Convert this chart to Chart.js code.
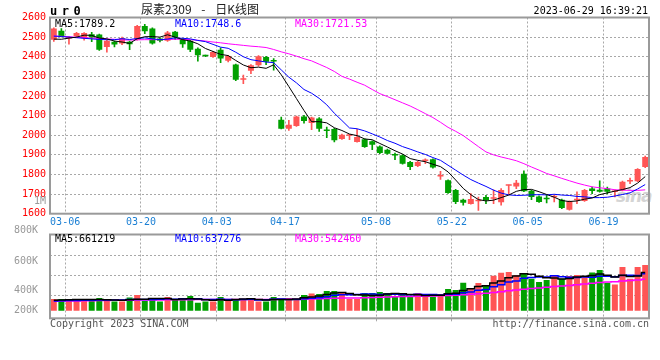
<!DOCTYPE html>
<html><head><meta charset="utf-8">
<script src="https://cdn.jsdelivr.net/npm/chart.js@4.4.0/dist/chart.umd.min.js"></script>
<style>
html,body{margin:0;padding:0;background:#fff;}
#wrap{position:relative;width:660px;height:360px;overflow:hidden;background:#fff;}
canvas{position:absolute;left:0;}
.t{position:absolute;font-family:'DejaVu Sans Mono',monospace;font-size:10px;line-height:10px;white-space:pre;}
</style></head><body><div id="wrap">
<div class="t" style="left:616px;top:186px;font-family:'DejaVu Sans';font-weight:bold;font-style:italic;font-size:17px;line-height:20px;letter-spacing:-1px;color:#d4d4d4;">sina</div>
<canvas id="pc" width="660" height="232" style="top:0"></canvas>
<canvas id="vc" width="660" height="160" style="top:200px"></canvas>
<div class="t" style="left:50px;top:4.8px;font-weight:bold;font-size:12px;line-height:12px;letter-spacing:4.5px;color:#000;">ur0</div>
<div class="t" style="left:141px;top:2px;font-family:'Noto Sans CJK SC';font-size:12px;line-height:14px;color:#222;word-spacing:7px;">尿素2309 - 日K线图</div>
<div class="t" style="right:12px;top:6.1px;color:#000;">2023-06-29 16:39:21</div>
<div class="t" style="left:55px;top:18.8px;color:#000;">MA5:1789.2</div>
<div class="t" style="left:175px;top:18.8px;color:#0000ff;">MA10:1748.6</div>
<div class="t" style="left:295px;top:18.8px;color:#ff00ff;">MA30:1721.53</div>
<div class="t" style="left:34px;top:195.5px;color:#999;">1M</div>
<div class="t" style="left:55px;top:233.8px;color:#000;">MA5:661219</div>
<div class="t" style="left:175px;top:233.8px;color:#0000ff;">MA10:637276</div>
<div class="t" style="left:295px;top:233.8px;color:#ff00ff;">MA30:542460</div>
<div class="t" style="left:50px;top:318.8px;color:#555;">Copyright 2023 SINA.COM</div>
<div class="t" style="right:11px;top:318.8px;color:#555;">http://finance.sina.com.cn</div>
</div>
<script>
const dates = ['03-02','03-03','03-06','03-07','03-08','03-09','03-10','03-13','03-14','03-15','03-16','03-17','03-20','03-21','03-22','03-23','03-24','03-27','03-28','03-29','03-30','03-31',
'04-03','04-04','04-06','04-07','04-10','04-11','04-12','04-13','04-14','04-17','04-18','04-19','04-20','04-21','04-24','04-25','04-26','04-27','04-28',
'05-04','05-05','05-08','05-09','05-10','05-11','05-12','05-15','05-16','05-17','05-18','05-19','05-22','05-23','05-24','05-25','05-26','05-29','05-30','05-31',
'06-01','06-02','06-05','06-06','06-07','06-08','06-09','06-12','06-13','06-14','06-15','06-16','06-19','06-20','06-21','06-26','06-27','06-28'];
const tickDates = ['03-06','03-20','04-03','04-17','05-08','05-22','06-05','06-19'];

const opens = [2487,2532,2493,2504,2494,2515,2513,2450,2476,2467,2476,2487,2557,2544,2493,2481,2527,2489,2481,2441,2405,2399,2436,2379,2360,2283,2328,2357,2399,2378,
2079,2033,2047,2096,2062,2085,2023,2032,1981,1997,1966,1979,1969,1943,1926,1899,1898,1864,1843,1868,1877,1789,1770,1721,1671,1650,1664,1685,1676,1658,
1742,1739,1804,1717,1688,1676,1684,1671,1620,1669,1665,1729,1722,1728,1710,1719,1764,1765,1838];
const highs = [2547,2544,2503,2524,2523,2525,2516,2484,2480,2500,2480,2560,2565,2547,2496,2530,2530,2493,2484,2445,2408,2428,2445,2407,2362,2306,2360,2406,2402,2391,
2093,2076,2098,2102,2093,2090,2042,2035,2006,2005,2030,1982,1972,1946,1929,1909,1901,1867,1867,1880,1880,1816,1772,1724,1674,1702,1685,1694,1722,1728,
1746,1770,1818,1720,1691,1694,1694,1674,1666,1711,1724,1736,1767,1736,1722,1766,1781,1830,1894];
const lows = [2478,2501,2464,2501,2484,2477,2432,2423,2450,2462,2436,2484,2518,2464,2476,2478,2487,2447,2426,2377,2400,2396,2370,2374,2278,2263,2314,2352,2360,2331,
2032,2025,2045,2062,2028,2020,1988,1966,1978,1977,1964,1938,1926,1906,1903,1875,1852,1824,1840,1855,1832,1775,1703,1651,1643,1648,1617,1651,1651,1643,
1699,1728,1712,1671,1657,1655,1660,1626,1618,1651,1662,1702,1710,1702,1685,1716,1753,1763,1835];
const closes = [2544,2504,2501,2521,2521,2498,2436,2481,2462,2496,2464,2557,2530,2467,2481,2523,2498,2464,2436,2408,2403,2424,2391,2404,2283,2287,2357,2402,2374,2376,
2033,2054,2096,2073,2090,2033,2021,1974,2003,1999,1991,1940,1952,1909,1906,1897,1855,1838,1864,1870,1835,1791,1705,1660,1656,1675,1666,1668,1678,1721,
1744,1758,1714,1685,1660,1674,1686,1629,1663,1671,1721,1716,1712,1712,1712,1763,1766,1828,1889];

const ma5 = [2490,2489,2495,2500,2510,2509,2495,2491,2480,2475,2468,2492,2502,2503,2500,2512,2500,2487,2480,2466,2442,2427,2412,2406,2381,2358,2344,2347,2341,2359,
2308,2248,2187,2126,2069,2069,2063,2038,2024,2006,1998,1981,1977,1958,1940,1921,1904,1881,1872,1865,1852,1840,1813,1772,1729,1697,1672,1665,1669,1682,
1695,1714,1723,1724,1712,1698,1684,1667,1662,1665,1674,1680,1697,1706,1715,1723,1733,1756,1789.2];
const ma10 = [2505,2503,2500,2497,2494,2491,2488,2487,2487,2492,2488,2493,2496,2491,2487,2490,2496,2494,2491,2483,2477,2463,2449,2443,2423,2400,2385,2379,2373,2370,
2333,2296,2267,2233,2214,2188,2155,2112,2075,2037,2033,2022,2007,1991,1973,1959,1942,1929,1915,1902,1886,1872,1847,1822,1797,1774,1756,1739,1720,1705,
1696,1693,1694,1696,1697,1696,1699,1695,1693,1688,1686,1682,1682,1684,1690,1698,1706,1726,1748.6];
const ma30 = [2506,2504,2502,2499,2497,2495,2493,2491,2489,2486,2485,2486,2487,2487,2487,2488,2489,2489,2487,2484,2480,2475,2471,2466,2462,2458,2454,2451,2447,2437,
2425,2415,2403,2390,2379,2362,2345,2325,2300,2286,2270,2255,2233,2212,2197,2181,2165,2149,2130,2110,2090,2066,2040,2020,1998,1970,1942,1915,1900,1889,
1880,1870,1855,1838,1822,1805,1793,1780,1768,1756,1746,1737,1732,1728,1722,1720,1719,1719,1721.53];

// volume, in thousands
const volumes = [202,202,202,185,185,185,220,178,161,161,230,272,168,220,161,237,195,195,254,138,161,161,237,202,202,202,202,161,161,237,
202,220,195,272,299,289,341,341,306,202,202,306,306,324,306,242,289,242,306,247,247,289,375,358,484,393,479,445,606,657,
670,618,652,554,497,531,600,554,600,618,600,663,704,484,455,756,554,756,791];
const vma5 = [180,185,190,195,195,192,195,191,186,181,190,200,198,210,210,212,196,202,208,204,189,182,190,180,193,201,209,194,186,193,
193,196,203,225,238,255,279,308,315,296,278,271,264,268,289,297,293,281,277,265,266,266,293,303,351,380,418,432,481,516,
571,599,641,630,598,570,567,547,556,581,594,607,637,614,581,612,591,601,661.219];
const vma10 = [170,172,175,178,180,182,185,186,186,187,193,196,192,196,200,206,197,206,209,208,193,192,199,192,191,192,200,187,190,197,
201,195,195,209,216,226,241,267,277,276,279,290,290,282,284,284,279,275,283,281,280,274,285,284,309,323,356,368,416,448,
495,516,561,573,585,585,604,589,577,576,581,577,597,598,588,610,614,608,637.276];
const vma30 = [165,167,168,170,172,174,176,178,180,181,182,184,185,186,187,188,189,190,191,192,192,192,193,193,194,194,195,195,195,196,
197,198,199,201,204,207,211,216,220,221,222,226,230,235,239,241,244,246,250,252,254,257,263,268,278,285,295,303,314,330,
345,359,373,384,394,405,417,427,438,449,460,473,487,495,500,515,523,532,542.46];

const volMin = -131, volMax = 1318;
const volGridAt = [266, 612, 963];
const volTickLabels = ['800K','600K','400K','200K'];
const volTickAt = [1384, 848, 346, 12];

const UP = '#ff5555', DOWN = '#00a000';
const candleColors = closes.map((c,i) => c >= opens[i] ? UP : DOWN);
const MONO = {family:"'DejaVu Sans Mono', monospace", size:10};
const GRID = '#a8a8a8';
const dateGrid = ctx => (ctx.tick && tickDates.includes(dates[ctx.index])) ? GRID : 'rgba(0,0,0,0)';

const frame = {id:'frame', afterDatasetsDraw(chart){
  const a = chart.chartArea, c = chart.ctx;
  c.save(); c.strokeStyle = '#9a9a9a'; c.lineWidth = 2;
  c.strokeRect(a.left, a.top, a.right - a.left, a.bottom - a.top);
  c.restore();
}};

function line(data, color, w, stepped){
  return {type:'line', data, borderColor:color, backgroundColor:color, borderWidth:w, pointRadius:0, tension:0, stepped: stepped||false, order:0};
}

new Chart(document.getElementById('pc'), {
  type:'bar',
  data:{labels:dates, datasets:[
    line(ma5,'#000000',1), line(ma10,'#0000ff',1), line(ma30,'#ff00ff',1),
    {data:opens.map((o,i)=>[o,closes[i]]), backgroundColor:candleColors, barPercentage:0.79, categoryPercentage:1, grouped:false, minBarLength:1.5, order:1},
    {data:lows.map((l,i)=>[l,highs[i]]), backgroundColor:candleColors, barThickness:1, grouped:false, order:2}
  ]},
  options:{
    responsive:false, animation:false, devicePixelRatio:1,
    layout:{padding:{top:17.5, right:11, left:0, bottom:0}},
    plugins:{legend:{display:false}, tooltip:{enabled:false}},
    scales:{
      x:{offset:true,
         grid:{offset:true, drawTicks:false, color:dateGrid, lineWidth:1},
         border:{display:false, dash:[2,2]},
         ticks:{autoSkip:false, maxRotation:0, minRotation:0, padding:3, labelOffset:-3.8, color:'#1a7fd4', font:MONO,
                callback:(v,i)=> tickDates.includes(dates[i]) ? dates[i] : ''},
         afterFit:s=>{s.height = 18.3;}},
      y:{min:1600, max:2600,
         ticks:{stepSize:100, color:'#ff0000', padding:4, font:MONO, callback:v=>String(v)},
         grid:{drawTicks:false, color:GRID, lineWidth:1},
         border:{display:false, dash:[2,2]},
         afterFit:s=>{s.width = 50;}}
    }
  },
  plugins:[frame]
});

new Chart(document.getElementById('vc'), {
  type:'bar',
  data:{labels:dates, datasets:[
    line(vma5,'#000000',1.5,'middle'), line(vma10,'#0000ff',1.5,'middle'), line(vma30,'#ff00ff',1.5,'middle'),
    {data:volumes, backgroundColor:candleColors, barPercentage:0.79, categoryPercentage:1, order:1}
  ]},
  options:{
    responsive:false, animation:false, devicePixelRatio:1,
    layout:{padding:{top:34.5, right:11, left:0, bottom:0}},
    plugins:{legend:{display:false}, tooltip:{enabled:false}},
    scales:{
      x:{offset:true,
         grid:{offset:true, drawTicks:true, tickLength:3, color:dateGrid, lineWidth:1},
         border:{display:false, dash:[2,2]},
         ticks:{display:false, autoSkip:false},
         afterFit:s=>{s.height = 41.7;}},
      y:{position:'left', min:volMin, max:volMax,
         afterBuildTicks:s=>{ s.ticks = volGridAt.map(v=>({value:v})); },
         ticks:{display:false},
         grid:{drawTicks:false, color:GRID, lineWidth:1},
         border:{display:false, dash:[2,2]},
         afterFit:s=>{s.width = 0;}},
      yl:{position:'left', min:volMin, max:volMax,
         afterBuildTicks:s=>{ s.ticks = volTickAt.map(v=>({value:v})); },
         ticks:{autoSkip:false, color:'#999999', padding:4, font:MONO, callback:(v,i)=>volTickLabels[i]},
         grid:{display:false},
         border:{display:false},
         afterFit:s=>{s.width = 50;}}
    }
  },
  plugins:[frame]
});
</script>
</body></html>
